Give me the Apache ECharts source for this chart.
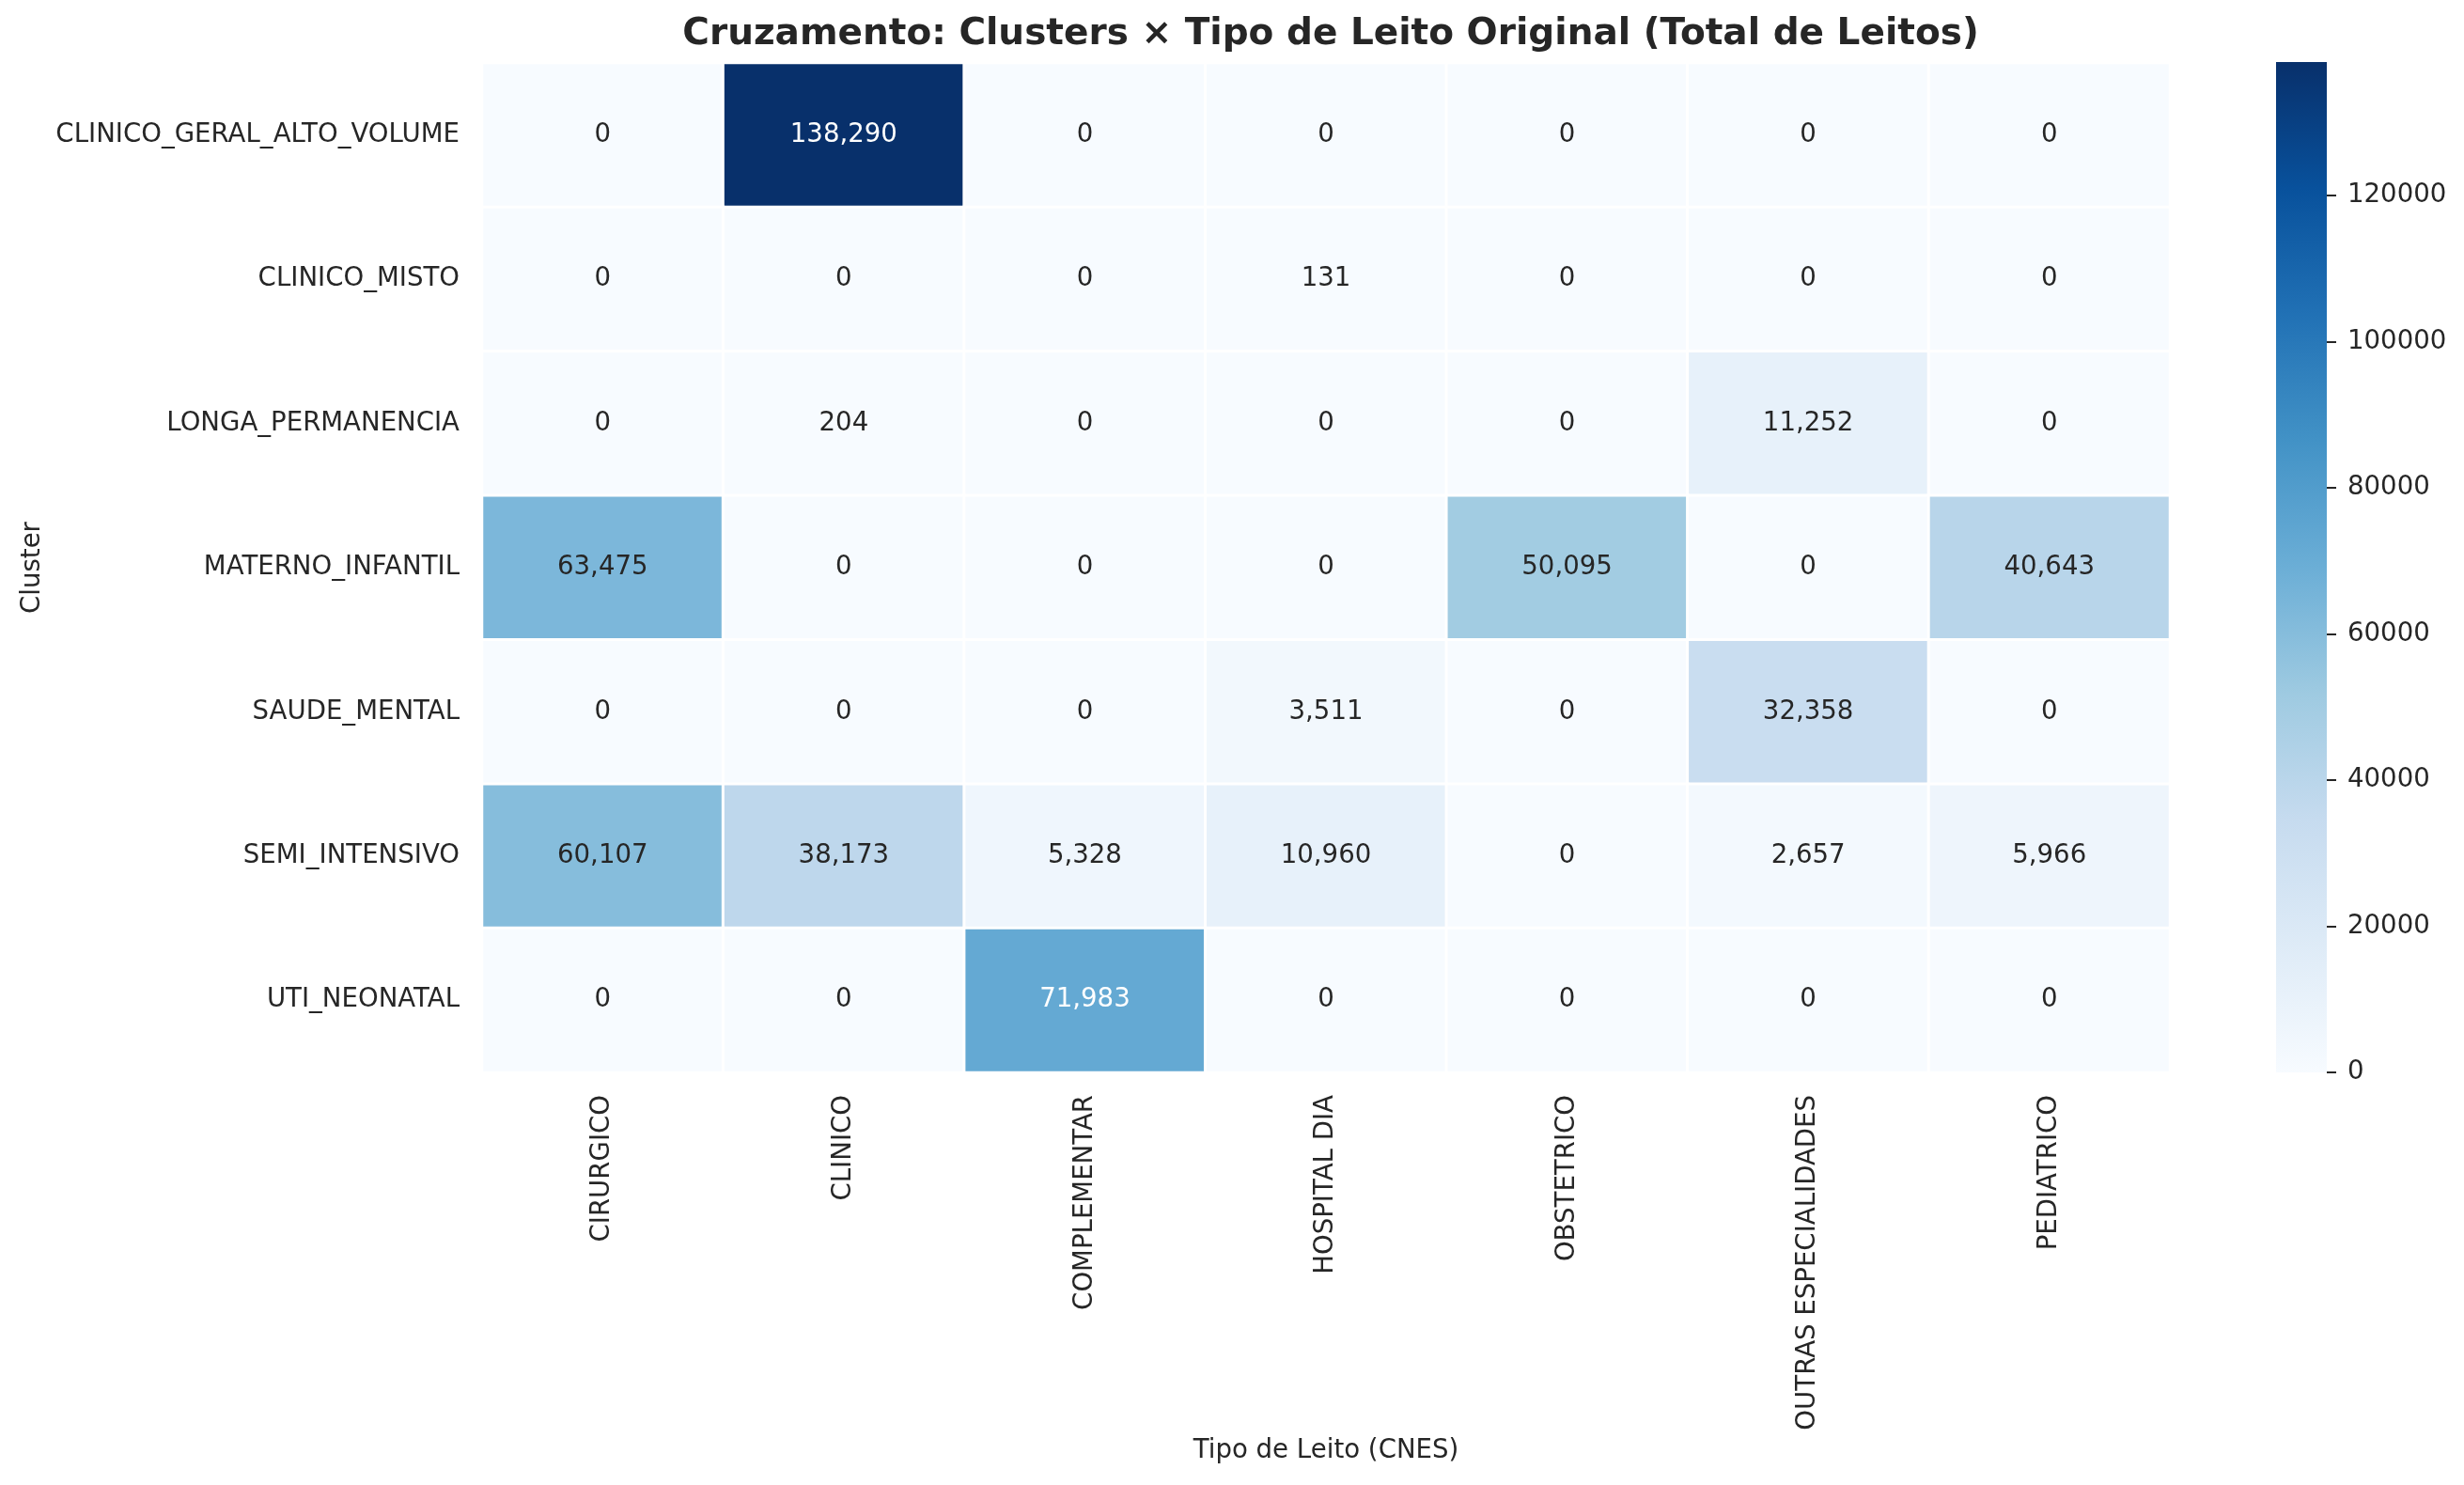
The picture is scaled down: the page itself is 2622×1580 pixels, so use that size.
<!DOCTYPE html>
<html>
<head>
<meta charset="utf-8">
<script src="https://cdn.jsdelivr.net/npm/echarts@6/dist/echarts.min.js"></script>
<style>
  html, body { margin: 0; padding: 0; background: #ffffff; }
  #chart { width: 2622px; height: 1580px; }
</style>
</head>
<body>
<div id="chart"></div>
<script>
const clusters = ['CLINICO_GERAL_ALTO_VOLUME', 'CLINICO_MISTO', 'LONGA_PERMANENCIA', 'MATERNO_INFANTIL', 'SAUDE_MENTAL', 'SEMI_INTENSIVO', 'UTI_NEONATAL'];
const tiposLeito = ['CIRURGICO', 'CLINICO', 'COMPLEMENTAR', 'HOSPITAL DIA', 'OBSTETRICO', 'OUTRAS ESPECIALIDADES', 'PEDIATRICO'];
const rowClinicoGeralAltoVolume = [0, 138290, 0, 0, 0, 0, 0];
const rowClinicoMisto = [0, 0, 0, 131, 0, 0, 0];
const rowLongaPermanencia = [0, 204, 0, 0, 0, 11252, 0];
const rowMaternoInfantil = [63475, 0, 0, 0, 50095, 0, 40643];
const rowSaudeMental = [0, 0, 0, 3511, 0, 32358, 0];
const rowSemiIntensivo = [60107, 38173, 5328, 10960, 0, 2657, 5966];
const rowUtiNeonatal = [0, 0, 71983, 0, 0, 0, 0];
const colorbarTicks = [0, 20000, 40000, 60000, 80000, 100000, 120000];

const matrix = [rowClinicoGeralAltoVolume, rowClinicoMisto, rowLongaPermanencia, rowMaternoInfantil, rowSaudeMental, rowSemiIntensivo, rowUtiNeonatal];
const maxVal = Math.max(...matrix.flat());
const blues = ['#f7fbff', '#deebf7', '#c6dbef', '#9ecae1', '#6baed6', '#4292c6', '#2171b5', '#08519c', '#08306b'];
const FONT = 'DejaVu Sans';
const TXT = '#262626';

const heatData = [];
matrix.forEach((row, i) => {
  row.forEach((v, j) => {
    heatData.push({
      value: [j, i, v],
      label: { color: v / maxVal > 0.5 ? '#ffffff' : TXT }
    });
  });
});

const chart = echarts.init(document.getElementById('chart'), null, { renderer: 'canvas' });
const option = {
  backgroundColor: '#ffffff',
  animation: false,
  title: {
    text: 'Cruzamento: Clusters × Tipo de Leito Original (Total de Leitos)',
    left: 1411,
    top: 12,
    textAlign: 'center',
    textStyle: { fontFamily: FONT, fontSize: 39, fontWeight: 'bold', color: TXT }
  },
  grid: [
    { left: 513, top: 67, width: 1796, height: 1074 },
    { left: 2422, top: 66, width: 54, height: 1075 }
  ],
  xAxis: [
    {
      type: 'category', gridIndex: 0, data: tiposLeito, position: 'bottom',
      axisLine: { show: false }, axisTick: { show: false }, splitLine: { show: false },
      axisLabel: { rotate: 90, fontFamily: FONT, fontSize: 27.6, color: TXT, margin: 24 },
      name: 'Tipo de Leito (CNES)', nameLocation: 'middle', nameGap: 386,
      nameTextStyle: { fontFamily: FONT, fontSize: 27.6, color: TXT, verticalAlign: 'top' }
    },
    {
      type: 'category', gridIndex: 1, data: ['cb'], show: false
    }
  ],
  yAxis: [
    {
      type: 'category', gridIndex: 0, data: clusters, inverse: true,
      axisLine: { show: false }, axisTick: { show: false }, splitLine: { show: false },
      axisLabel: { fontFamily: FONT, fontSize: 27.6, color: TXT, margin: 24 },
      name: 'Cluster', nameLocation: 'middle', nameGap: 460, nameRotate: 90,
      nameTextStyle: { fontFamily: FONT, fontSize: 27.6, color: TXT }
    },
    {
      type: 'value', gridIndex: 1, min: 0, max: maxVal, position: 'right',
      axisLine: { show: false },
      splitLine: { show: false },
      axisTick: { show: true, length: 10, lineStyle: { color: TXT, width: 2 }, customValues: colorbarTicks },
      axisLabel: { fontFamily: FONT, fontSize: 27.6, color: TXT, margin: 22, customValues: colorbarTicks, formatter: v => String(v) }
    }
  ],
  visualMap: {
    show: false, type: 'continuous', min: 0, max: maxVal, seriesIndex: 0,
    inRange: { color: blues }
  },
  series: [
    {
      type: 'heatmap', xAxisIndex: 0, yAxisIndex: 0, data: heatData,
      itemStyle: { borderColor: '#ffffff', borderWidth: 3 },
      label: {
        show: true, fontFamily: FONT, fontSize: 27.6,
        formatter: p => p.value[2].toLocaleString('en-US')
      },
      emphasis: { disabled: true }
    },
    {
      type: 'bar', xAxisIndex: 1, yAxisIndex: 1, data: [maxVal], barWidth: '100%',
      itemStyle: {
        color: new echarts.graphic.LinearGradient(0, 1, 0, 0,
          blues.map((c, k) => ({ offset: k / (blues.length - 1), color: c })))
      },
      silent: true
    }
  ]
};
chart.setOption(option);
</script>
</body>
</html>
